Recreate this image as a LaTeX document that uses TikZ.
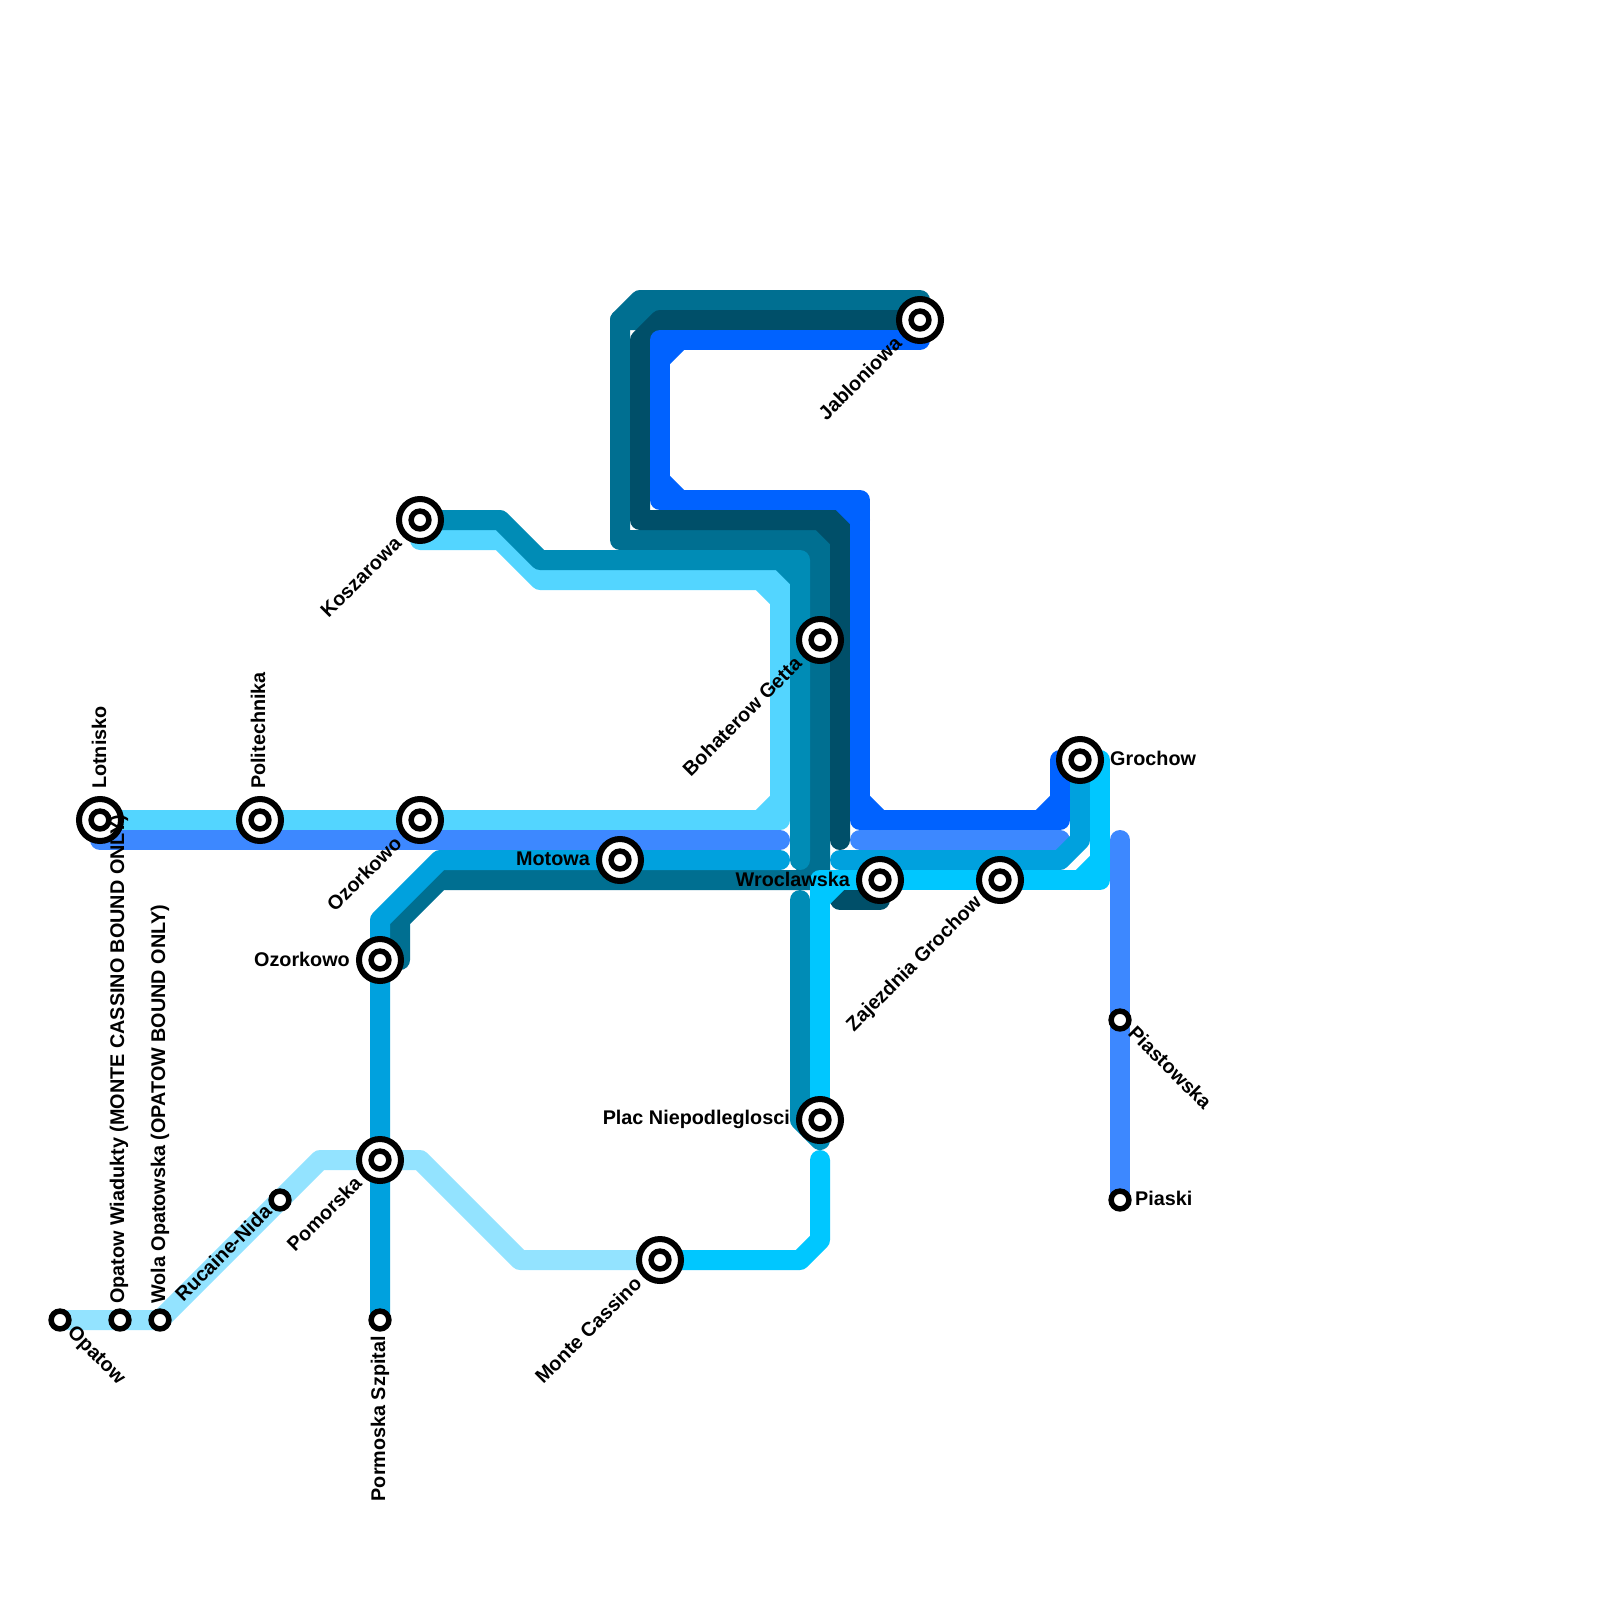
\documentclass[tikz,border=0pt]{standalone}
\usepackage{fontspec}
\setmainfont{Liberation Sans}
\usetikzlibrary{backgrounds}
\definecolor{linepale}{HTML}{93E3FF}
\definecolor{linesky}{HTML}{53D5FF}
\definecolor{lineperi}{HTML}{3D88FF}
\definecolor{linemid}{HTML}{00A1DE}
\definecolor{linesea}{HTML}{008CB6}
\definecolor{lineteal}{HTML}{006F91}
\definecolor{linedeep}{HTML}{004F69}
\definecolor{lineblue}{HTML}{0062FF}
\definecolor{linecyan}{HTML}{00C7FF}
\tikzset{
	medge/.style={line width=20pt,line cap=round,line join=round},
	bigstop/.style={circle,draw=black,fill=white,line width=6pt,inner sep=0pt,minimum size=42pt},
	ringstop/.style={circle,draw=black,fill=white,line width=5.5pt,inner sep=0pt,minimum size=17.8pt},
	stoplabel/.style={font=\bfseries\fontsize{19.8}{24}\selectfont,inner sep=0pt,text=black}
}
\begin{document}
\begin{tikzpicture}[x=1pt,y=-1pt]
	\useasboundingbox (0,0) rectangle (1600,1600);

	\foreach \n/\x/\y in {lotnisko/100/820,politech/260/820,ozorkowoa/420/820,motowa/620/860,
		ozorkowob/380/960,pomorska/380/1160,koszarowa/420/520,jabloniowa/920/320,
		bohaterow/820/640,wroclawska/880/880,zajezdnia/1000/880,grochow/1080/760,
		plac/820/1120,monte/660/1260} {
		\node[bigstop] (\n) at (\x,\y) {};
		\node[ringstop] (\n-in) at (\n) {};
	}
	\foreach \n/\x/\y in {opatow/60/1320,wiadukty/120/1320,wola/160/1320,rucaine/280/1200,
		szpital/380/1320,piastowska/1120/1020,piaski/1120/1200}
		\node[ringstop] (\n) at (\x,\y) {};

	\begin{scope}[on background layer]
		\fill[white] (0,0) rectangle (1600,1600);
		% pale line
		\draw[medge,linepale] (opatow.center) -- (wola.center) -- (rucaine.center) -- (320,1160)
			-- (420,1160) -- (520,1260) -- (monte.center);
		% sky line
		\draw[medge,linesky] (lotnisko.center) -- (780,820) -- (780,580) -- (540,580) -- (500,540)
			-- (420,540) -- (koszarowa.center);
		\draw[medge,linesky] (760,820) -- (780,800) (760,580) -- (780,600);
		% periwinkle line
		\draw[medge,lineperi] (lotnisko.center) -- (100,840) -- (780,840);
		\draw[medge,lineperi] (860,840) -- (1060,840);
		\draw[medge,lineperi] (1120,840) -- (piastowska.center) -- (piaski.center);
		% teal line
		\draw[medge,lineteal] (jabloniowa.center) -- (920,300) -- (640,300) -- (620,320) -- (620,540)
			-- (820,540) -- (820,880) -- (440,880) -- (400,920) -- (400,960) -- (ozorkowob.center);
		\draw[medge,lineteal] (620,320) -- (660,320) (800,540) -- (820,560) (800,880) -- (820,860);
		% mid line
		\draw[medge,linemid] (szpital.center) -- (pomorska.center) -- (ozorkowob.center) -- (380,920)
			-- (440,860) -- (motowa.center) -- (780,860);
		\draw[medge,linemid] (840,860) -- (1060,860) -- (1080,840) -- (grochow.center);
		% sea line
		\draw[medge,linesea] (koszarowa.center) -- (500,520) -- (540,560) -- (800,560) -- (800,860);
		\draw[medge,linesea] (780,560) -- (800,580);
		\draw[medge,linesea] (800,900) -- (800,1120) -- (820,1140) -- (plac.center);
		% deep line
		\draw[medge,linedeep] (jabloniowa.center) -- (660,320) -- (640,340) -- (640,520) -- (840,520)
			-- (840,840);
		\draw[medge,linedeep] (820,520) -- (840,540);
		\draw[medge,linedeep] (wroclawska.center) -- (880,900) -- (840,900);
		% blue line
		\draw[medge,lineblue] (jabloniowa.center) -- (920,340) -- (660,340) -- (660,500) -- (860,500)
			-- (860,820) -- (1060,820) -- (1060,760) -- (grochow.center);
		\draw[medge,lineblue] (660,360) -- (680,340) (660,480) -- (680,500) (840,500) -- (860,520)
			(860,800) -- (880,820) (1040,820) -- (1060,800);
		% cyan line
		\draw[medge,linecyan] (monte.center) -- (800,1260) -- (820,1240) -- (820,1160);
		\draw[medge,linecyan] (plac.center) -- (820,880) -- (wroclawska.center) -- (zajezdnia.center)
			-- (1100,880) -- (1100,760) -- (grochow.center);
		\draw[medge,linecyan] (820,900) -- (840,880) (1080,880) -- (1100,860);
	\end{scope}

	% stop names
	\node[stoplabel,rotate=90,anchor=west] (lbl-lotnisko) at (99,789) {Lotnisko};
	\node[stoplabel,rotate=90,anchor=west] (lbl-politech) at (258,789) {Politechnika};
	\node[stoplabel,rotate=45,anchor=east] (lbl-ozorkowoa) at (398,840) {Ozorkowo};
	\node[stoplabel,anchor=east] (lbl-motowa) at (590,859) {Motowa};
	\node[stoplabel,anchor=east] (lbl-ozorkowob) at (350,959) {Ozorkowo};
	\node[stoplabel,rotate=45,anchor=east] (lbl-pomorska) at (358,1180) {Pomorska};
	\node[stoplabel,rotate=45,anchor=east] (lbl-koszarowa) at (398,540) {Koszarowa};
	\node[stoplabel,rotate=45,anchor=east] (lbl-jabloniowa) at (898,340) {Jabloniowa};
	\node[stoplabel,rotate=45,anchor=east] (lbl-bohaterow) at (798,660) {Bohaterow Getta};
	\node[stoplabel,anchor=east] (lbl-wroclawska) at (850,879) {Wroclawska};
	\node[stoplabel,rotate=45,anchor=east] (lbl-zajezdnia) at (979,900) {Zajezdnia Grochow};
	\node[stoplabel,anchor=west] (lbl-grochow) at (1110,758) {Grochow};
	\node[stoplabel,anchor=east] (lbl-plac) at (790,1119) {Plac Niepodleglosci};
	\node[stoplabel,rotate=45,anchor=east] (lbl-monte) at (638,1280) {Monte Cassino};
	\node[stoplabel,rotate=-45,anchor=west] (lbl-opatow) at (70,1330) {Opatow};
	\node[stoplabel,rotate=90,anchor=west] (lbl-wiadukty) at (119,1304) {Opatow Wiadukty (MONTE CASSINO BOUND ONLY)};
	\node[stoplabel,rotate=90,anchor=west] (lbl-wola) at (160,1304) {Wola Opatowska (OPATOW BOUND ONLY)};
	\node[stoplabel,rotate=45,anchor=east] (lbl-rucaine) at (268,1208) {Rucaine-Nida};
	\node[stoplabel,rotate=90,anchor=east] (lbl-szpital) at (380,1336) {Pormoska Szpital};
	\node[stoplabel,rotate=-45,anchor=west] (lbl-piastowska) at (1132,1029) {Piastowska};
	\node[stoplabel,anchor=west] (lbl-piaski) at (1135,1198) {Piaski};
\end{tikzpicture}
\end{document}
